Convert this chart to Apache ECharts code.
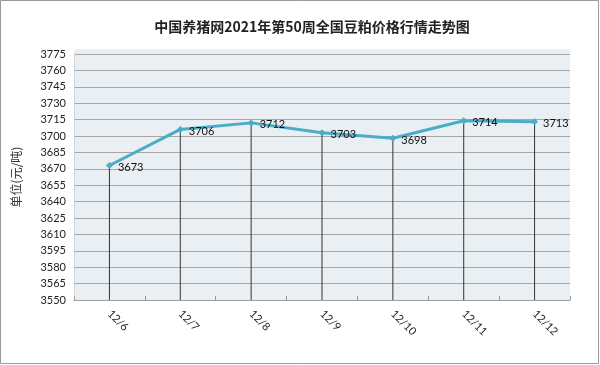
<!DOCTYPE html>
<html><head><meta charset="utf-8">
<script src="https://cdn.jsdelivr.net/npm/echarts@6/dist/echarts.min.js"></script>
<style>html,body{margin:0;padding:0;background:#fff}#c{width:600px;height:365px}</style>
</head><body><div id="c"></div>
<script>
const titleText = '中国养猪网2021年第50周全国豆粕价格行情走势图';
const yName = '单位(元/吨)';
const categories = ['12/6','12/7','12/8','12/9','12/10','12/11','12/12'];
const prices = [3673, 3706, 3712, 3703, 3698, 3714, 3713];
const yMin = 3550, yMax = 3775, yStep = 15;

const shifted = prices.map(v => v - yMin);
const chart = echarts.init(document.getElementById('c'));
chart.setOption({
  animation: false,
  title: {text: titleText, left: 307, textAlign: 'center', top: 15,
    textStyle: {fontFamily: '"Noto Sans CJK SC"', fontSize: 14, fontWeight: 'bold', color: '#222'}},
  graphic: [
    {type: 'rect', z: -10, shape: {x: 0.5, y: 0.5, width: 598, height: 363}, style: {fill: '#fff', stroke: '#9a9a9a', lineWidth: 1}},
    {type: 'rect', z: -9, shape: {x: 74, y: 49, width: 496, height: 251}, style: {fill: '#e9eff3'}}
  ],
  grid: {left: 74, right: 30, top: 54, bottom: 65},
  xAxis: {type: 'category', data: categories, boundaryGap: true,
    axisLine: {show: true, lineStyle: {color: '#a0a0a0'}},
    axisTick: {show: true, inside: true, length: 4, lineStyle: {color: '#999'}},
    axisLabel: {rotate: -45, margin: 12, color: '#222', fontFamily: 'Lato', fontSize: 11}},
  yAxis: {type: 'value', min: 0, max: yMax - yMin, interval: yStep,
    name: yName, nameLocation: 'middle', nameGap: 52, nameRotate: 90,
    nameTextStyle: {fontFamily: '"Noto Sans CJK SC"', fontSize: 12, color: '#333'},
    axisLine: {show: true, lineStyle: {color: '#d0d8de'}},
    axisTick: {show: false},
    axisLabel: {color: '#222', fontFamily: 'Lato', fontSize: 11, margin: 8, formatter: v => String(v + yMin)},
    splitLine: {lineStyle: {color: '#a6a6a6', width: 1}}},
  series: [
    {type: 'bar', data: shifted, barWidth: 1, itemStyle: {color: '#333'}, silent: true, z: 1},
    {type: 'line', data: shifted, symbol: 'diamond', symbolSize: 7, z: 3,
      lineStyle: {color: '#4bacc6', width: 3}, itemStyle: {color: '#4bacc6'},
      label: {show: true, position: 'right', offset: [0, 2], color: '#111', fontFamily: 'Lato', fontSize: 11,
        formatter: p => String(prices[p.dataIndex])}}
  ]
});
</script></body></html>
